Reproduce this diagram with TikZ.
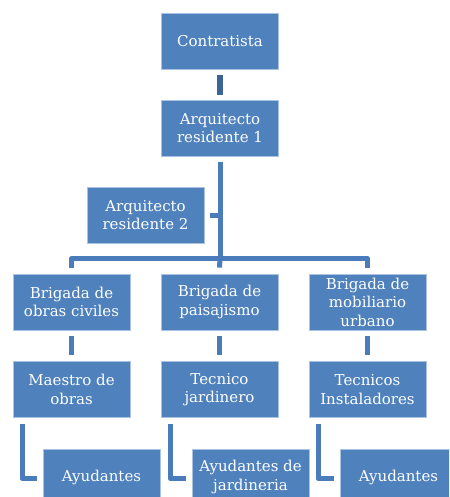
\documentclass[tikz,border=0pt]{standalone}
\usepackage{fontspec}
\setmainfont{DejaVu Serif}
\definecolor{boxfill}{RGB}{79,129,189}
\definecolor{boxline}{RGB}{170,195,226}
\definecolor{conn}{RGB}{74,124,187}
\definecolor{conndark}{RGB}{60,100,151}
\tikzset{
  orgbox/.style={draw=boxline, line width=0.8pt, fill=boxfill, text=white,
    minimum width=117pt, minimum height=56pt, inner sep=1pt, align=center,
    font=\fontsize{15}{18.5}\selectfont},
  link/.style={draw=conn, line width=5pt, line join=round},
}
\begin{document}
\begin{tikzpicture}[x=1pt,y=-1pt]
\useasboundingbox (0,0) rectangle (449,497);
\clip (0,0) rectangle (449,497);
\node[orgbox] (c) at (220,41) {Contratista};
\node[orgbox] (a1) at (220,128) {Arquitecto\\residente 1};
\node[orgbox] (a2) at (145.5,215) {Arquitecto\\residente 2};
\node[orgbox] (b1) at (71.5,302) {Brigada de\\obras civiles};
\node[orgbox] (b2) at (219.5,302) {Brigada de\\paisajismo};
\node[orgbox] (b3) at (367.5,302) {Brigada de\\mobiliario\\urbano};
\node[orgbox] (t1) at (71.5,389.5) {Maestro de\\obras};
\node[orgbox] (t2) at (219.5,389.5) {Tecnico\\jardinero};
\node[orgbox] (t3) at (367.5,389.5) {Tecnicos\\Instaladores};
\node[orgbox] (y1) at (101.5,477) {Ayudantes};
\node[orgbox] (y2) at (250.5,477) {Ayudantes de\\jardineria};
\node[orgbox] (y3) at (398.5,477) {Ayudantes};
\coordinate (bus) at (220,258.5);
% top
\draw[link, draw=conndark, line width=6pt] ([yshift=-6pt]c.south) -- ([yshift=5pt]a1.north);
% trunk
\draw[link] ([yshift=-6pt]a1.south) -- (bus);
\draw[link] ([xshift=6pt]a2.east) -- (a2.east -| bus);
\draw[link] (bus) -| ([yshift=6pt]b1.north);
\draw[link] (bus) -- ([yshift=6pt]b2.north);
\draw[link] (bus) -| ([yshift=6pt]b3.north);
% brigade to tech
\foreach \i in {1,2,3}{
  \draw[link] ([yshift=-6pt]b\i.south) -- ([yshift=6pt]t\i.north);
  \draw[link] ([xshift=9.5pt,yshift=-6pt]t\i.south west) |- ([xshift=-6pt,yshift=-1.5pt]y\i.west);
}
\end{tikzpicture}
\end{document}
